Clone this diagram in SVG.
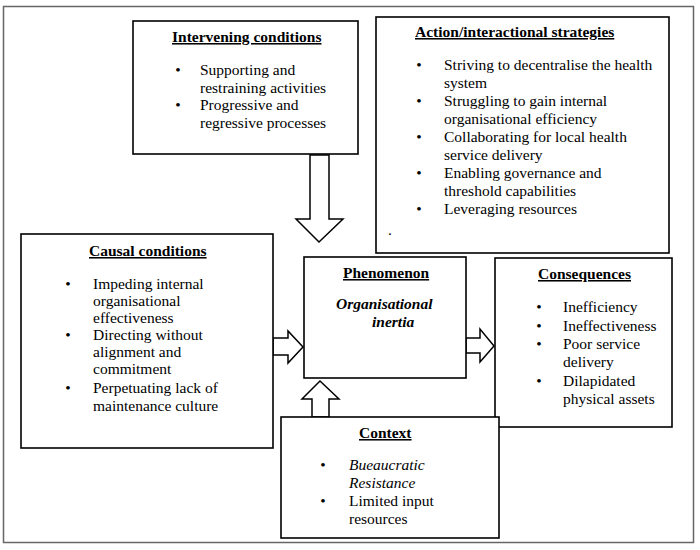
<svg xmlns="http://www.w3.org/2000/svg" width="700" height="550" viewBox="0 0 700 550">
<style>
text{font-family:'Liberation Serif',Tinos,'Times New Roman','DejaVu Serif',serif;font-size:15.5px;fill:#000}
.t{font-weight:bold;text-decoration:underline}
.bl{text-anchor:middle}
.box{fill:#fff;stroke:#000;stroke-width:1.6}
.arr{fill:#fff;stroke:#000;stroke-width:1.5;stroke-linejoin:miter}
</style>
<rect x="3.5" y="6.5" width="690" height="536" fill="#fff" stroke="#666" stroke-width="1.5"/>
<g id="connectors">
<polygon class="arr" points="310,155 329,155 329,219 343,219 319,242 296,219 310,219"/>
<polygon class="arr" points="273,338 288,338 288,331 303,347 288,363 288,355 273,355"/>
<polygon class="arr" points="312,417 312,399 302,399 320,381 339,399 329,399 329,417"/>
<polygon class="arr" points="466,338 480,338 480,329 494,346 480,362 480,353 466,353"/>
</g>
<g id="intervening">
<rect class="box" x="133" y="21" width="225" height="133"/>
<text class="t" x="172" y="42">Intervening conditions</text>
<text class="bl" x="178" y="75">•</text>
<text x="200" y="75">Supporting and</text>
<text x="200" y="92.5">restraining activities</text>
<text class="bl" x="178" y="110">•</text>
<text x="200" y="110">Progressive and</text>
<text x="200" y="127.5">regressive processes</text>
</g>
<g id="action">
<rect class="box" x="376" y="17" width="293" height="236"/>
<text class="t" x="415" y="37">Action/interactional strategies</text>
<text class="bl" x="419" y="70">•</text>
<text x="444" y="70">Striving to decentralise the health</text>
<text x="444" y="87.5">system</text>
<text class="bl" x="419" y="106">•</text>
<text x="444" y="106">Struggling to gain internal</text>
<text x="444" y="123.5">organisational efficiency</text>
<text class="bl" x="419" y="142">•</text>
<text x="444" y="142">Collaborating for local health</text>
<text x="444" y="159.5">service delivery</text>
<text class="bl" x="419" y="178">•</text>
<text x="444" y="178">Enabling governance and</text>
<text x="444" y="195.5">threshold capabilities</text>
<text class="bl" x="419" y="214">•</text>
<text x="444" y="214">Leveraging resources</text>
<text x="388" y="235">.</text>
</g>
<g id="causal">
<rect class="box" x="21" y="234" width="252" height="214"/>
<text class="t" x="89" y="256">Causal conditions</text>
<text class="bl" x="68" y="289">•</text>
<text x="93" y="289">Impeding internal</text>
<text x="93" y="305.5">organisational</text>
<text x="93" y="322.5">effectiveness</text>
<text class="bl" x="68" y="340">•</text>
<text x="93" y="340">Directing without</text>
<text x="93" y="357">alignment and</text>
<text x="93" y="374">commitment</text>
<text class="bl" x="68" y="393">•</text>
<text x="93" y="393">Perpetuating lack of</text>
<text x="93" y="411">maintenance culture</text>
</g>
<g id="phenomenon">
<rect class="box" x="304" y="257" width="162" height="121"/>
<text class="t" x="343" y="278">Phenomenon</text>
<text x="336" y="309" font-weight="bold" font-style="italic">Organisational</text>
<text x="372" y="327" font-weight="bold" font-style="italic">inertia</text>
</g>
<g id="consequences">
<rect class="box" x="495" y="258" width="177" height="169"/>
<text class="t" x="538" y="279">Consequences</text>
<text class="bl" x="539" y="312">•</text>
<text x="563" y="312">Inefficiency</text>
<text class="bl" x="539" y="331">•</text>
<text x="563" y="331">Ineffectiveness</text>
<text class="bl" x="539" y="349">•</text>
<text x="563" y="349">Poor service</text>
<text x="563" y="367">delivery</text>
<text class="bl" x="539" y="386">•</text>
<text x="563" y="386">Dilapidated</text>
<text x="563" y="403.5">physical assets</text>
</g>
<g id="context">
<rect class="box" x="281" y="417" width="218" height="121"/>
<text class="t" x="359" y="438">Context</text>
<text class="bl" x="323" y="470">•</text>
<text x="349" y="470" font-style="italic">Bueaucratic</text>
<text x="349" y="487.5" font-style="italic">Resistance</text>
<text class="bl" x="323" y="506">•</text>
<text x="349" y="506">Limited input</text>
<text x="349" y="524">resources</text>
</g>
</svg>
